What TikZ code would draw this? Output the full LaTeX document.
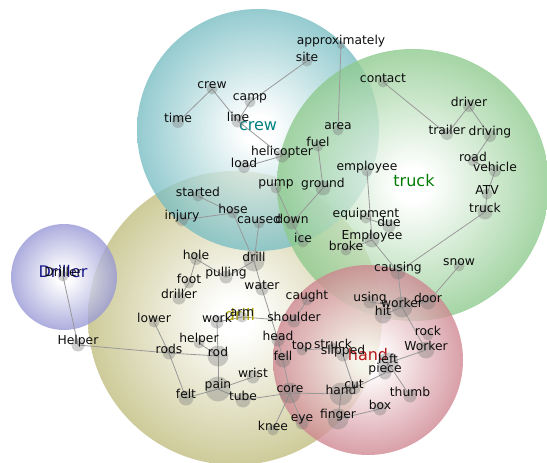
\documentclass[tikz,border=0pt]{standalone}
\usepackage{fontspec}
\setmainfont{DejaVu Sans}
\usepackage{xcolor}
\usepackage{tikz}

\definecolor{crewcol}{RGB}{60,160,168}
\definecolor{truckcol}{RGB}{90,178,90}
\definecolor{drillcol}{RGB}{165,160,70}
\definecolor{handcol}{RGB}{185,80,95}
\definecolor{drillercol}{RGB}{105,105,195}

\pgfdeclareradialshading{crewshade}{\pgfpoint{0bp}{0bp}}{color(0bp)=(white); color(3bp)=(white); color(25bp)=(crewcol!70!white); color(50bp)=(crewcol)}
\pgfdeclareradialshading{truckshade}{\pgfpoint{0bp}{0bp}}{color(0bp)=(white); color(3bp)=(white); color(25bp)=(truckcol!70!white); color(50bp)=(truckcol)}
\pgfdeclareradialshading{drillshade}{\pgfpoint{0bp}{0bp}}{color(0bp)=(white); color(3bp)=(white); color(25bp)=(drillcol!70!white); color(50bp)=(drillcol)}
\pgfdeclareradialshading{handshade}{\pgfpoint{0bp}{0bp}}{color(0bp)=(white); color(3bp)=(white); color(25bp)=(handcol!70!white); color(50bp)=(handcol)}
\pgfdeclareradialshading{drillershade}{\pgfpoint{0bp}{0bp}}{color(0bp)=(white); color(3bp)=(white); color(25bp)=(drillercol!70!white); color(50bp)=(drillercol)}

\pgfdeclarelayer{blobs}
\pgfdeclarelayer{links}
\pgfsetlayers{blobs,links,main}

\tikzset{
    blob/.style={circle, inner sep=0pt, minimum size=#1, opacity=0.78},
    wdot/.style={circle, inner sep=0pt, minimum size=#1, fill=black!55, fill opacity=0.35},
    word/.style={inner sep=0pt, text=black!95, font=\fontsize{12.3}{14}\selectfont},
    group/.style={inner sep=0pt, font=\fontsize{16}{18}\selectfont},
    link/.style={draw=black!40, line width=0.8pt}
}

% one word of the network: name, x, y, dot size, text
\newcommand{\wordat}[5]{
    \node[wdot=#4pt] (#1) at (#2,#3+4) {};
    \node[word] (#1-txt) at (#2,#3) {#5};
}

\begin{document}
\begin{tikzpicture}[x=1pt, y=-1pt]
    \useasboundingbox (0,0) rectangle (547,463);

    \begin{pgfonlayer}{blobs}
        \node[blob=294pt, shading=drillshade] (drillblob) at (235,318) {};
        \node[blob=242pt, shading=crewshade] (crewblob) at (258,130) {};
        \node[blob=272pt, shading=truckshade] (truckblob) at (413,185) {};
        \node[blob=190pt, shading=handshade] (handblob) at (368,360) {};
        \node[blob=106pt, shading=drillershade] (drillerblob) at (64,277) {};
    \end{pgfonlayer}

    % group labels
    \node[group, text={rgb,255:red,0;green,128;blue,128}] (crewlab) at (258,126) {crew};
    \node[group, text={rgb,255:red,0;green,125;blue,0}] (trucklab) at (414,181) {truck};
    \node[group, text={rgb,255:red,175;green,165;blue,0}] (drilllab) at (240,315) {drill};
    \node[group, text={rgb,255:red,185;green,25;blue,25}] (handlab) at (368,355) {hand};
    \node[group, text={rgb,255:red,25;green,25;blue,140}] (drillerlab) at (63,272) {Driller};

    % crew
    \wordat{approx}{341}{41}{8}{approximately}
    \wordat{site}{307}{57}{11}{site}
    \wordat{crew}{212}{85}{11}{crew}
    \wordat{camp}{250}{98}{11}{camp}
    \wordat{time}{178}{118}{12}{time}
    \wordat{line}{238}{117}{13}{line}
    \wordat{helicopter}{282}{152}{13}{helicopter}
    \wordat{load}{244}{163}{12}{load}
    \wordat{area}{338}{126}{11}{area}
    \wordat{fuel}{318}{142}{11}{fuel}
    \wordat{pump}{276}{184}{11}{pump}
    \wordat{ground}{323}{184}{15}{ground}

    % truck
    \wordat{contact}{383}{78}{11}{contact}
    \wordat{driver}{469}{102}{12}{driver}
    \wordat{trailer}{447}{130}{12}{trailer}
    \wordat{driving}{490}{132}{12}{driving}
    \wordat{road}{473}{157}{11}{road}
    \wordat{vehicle}{495}{167}{12}{vehicle}
    \wordat{employee}{367}{167}{11}{employee}
    \wordat{atv}{487}{190}{11}{ATV}
    \wordat{truck}{485}{208}{15}{truck}
    \wordat{equipment}{366}{214}{11}{equipment}
    \wordat{due}{389}{222}{13}{due}
    \wordat{Employee}{372}{236}{15}{Employee}
    \wordat{ice}{303}{238}{11}{ice}
    \wordat{broke}{346}{246}{11}{broke}
    \wordat{snow}{459}{262}{11}{snow}
    \wordat{causing}{398}{268}{15}{causing}
    \wordat{using}{370}{298}{13}{using}
    \wordat{door}{428}{298}{15}{door}
    \wordat{worker}{402}{303}{21}{worker}
    \wordat{hit}{383}{311}{17}{hit}

    % drill
    \wordat{started}{198}{192}{11}{started}
    \wordat{hose}{233}{209}{11}{hose}
    \wordat{injury}{182}{216}{12}{injury}
    \wordat{caused}{259}{219}{11}{caused}
    \wordat{down}{292}{219}{13}{down}
    \wordat{hole}{196}{255}{12}{hole}
    \wordat{drill}{254}{257}{21}{drill}
    \wordat{pulling}{226}{273}{13}{pulling}
    \wordat{foot}{189}{279}{11}{foot}
    \wordat{water}{262}{285}{13}{water}
    \wordat{driller}{179}{294}{13}{driller}
    \wordat{caught}{307}{296}{11}{caught}
    \wordat{lower}{154}{318}{11}{lower}
    \wordat{work}{217}{318}{13}{work}
    \wordat{arm}{242}{313}{11}{arm}
    \wordat{shoulder}{294}{317}{13}{shoulder}
    \wordat{head}{278}{336}{13}{head}
    \wordat{helper}{199}{339}{11}{helper}
    \wordat{rods}{169}{349}{13}{rods}
    \wordat{rod}{218}{352}{21}{rod}
    \wordat{top}{302}{346}{11}{top}
    \wordat{fell}{283}{356}{15}{fell}
    \wordat{wrist}{253}{373}{13}{wrist}
    \wordat{pain}{218}{385}{25}{pain}
    \wordat{tube}{243}{396}{15}{tube}
    \wordat{felt}{186}{394}{15}{felt}
    \wordat{core}{290}{389}{21}{core}
    \wordat{knee}{273}{426}{11}{knee}
    \wordat{eye}{302}{419}{13}{eye}

    % hand
    \wordat{struck}{333}{344}{11}{struck}
    \wordat{slipped}{343}{351}{13}{slipped}
    \wordat{left}{388}{359}{21}{left}
    \wordat{rock}{428}{331}{11}{rock}
    \wordat{Worker}{426}{346}{17}{Worker}
    \wordat{piece}{385}{369}{13}{piece}
    \wordat{hand}{341}{390}{23}{hand}
    \wordat{cut}{354}{384}{13}{cut}
    \wordat{thumb}{410}{392}{13}{thumb}
    \wordat{box}{380}{405}{13}{box}
    \wordat{finger}{338}{415}{21}{finger}

    % Driller
    \wordat{Driller}{63}{272}{11}{Driller}
    \wordat{Helper}{78}{341}{13}{Helper}

    \begin{pgfonlayer}{links}
        \foreach \a/\b in {crew/time, crew/line, site/camp, camp/line, line/helicopter,
                helicopter/load, approx/area, fuel/ground, ground/down, pump/down,
                contact/trailer, driver/trailer, driver/driving, driving/road, road/vehicle,
                vehicle/atv, atv/truck, employee/Employee, equipment/due, broke/Employee,
                Employee/causing, causing/truck, causing/worker, snow/door, door/worker,
                using/worker, hit/worker, worker/Worker, down/ice,
                started/hose, injury/hose, hose/drill, caused/drill, drill/pulling,
                pulling/hole, hole/foot, foot/driller, drill/water, water/head, head/fell,
                fell/core, core/tube, core/knee, core/eye, arm/shoulder, arm/work,
                caught/shoulder, work/rod, helper/rod, rods/rod, lower/rods, rods/felt,
                rod/pain, pain/felt, pain/wrist, pain/tube,
                Worker/left, left/thumb, left/piece, piece/cut, cut/hand, hand/finger,
                hand/core, finger/box, slipped/cut, top/struck, struck/slipped,
                Driller/Helper, Helper/rods}
            \draw[link] (\a.center) -- (\b.center);
    \end{pgfonlayer}
\end{tikzpicture}
\end{document}
